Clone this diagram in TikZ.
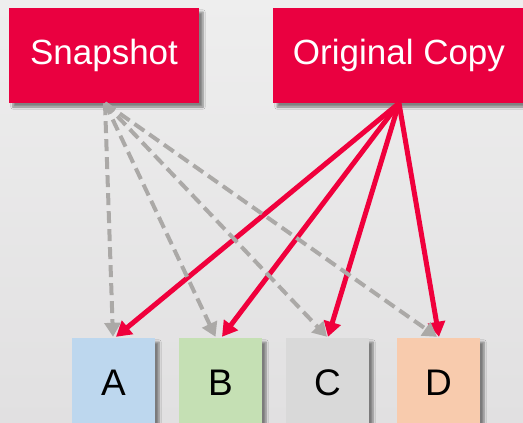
\documentclass[tikz,border=0pt]{standalone}
\usepackage{fontspec}
\setmainfont{Liberation Sans}
\usetikzlibrary{arrows.meta,calc,shadows.blur}
\definecolor{bgtop}{HTML}{EEEEEE}
\definecolor{bgbot}{HTML}{E1E0E1}
\definecolor{boxred}{HTML}{EA0040}
\definecolor{arrred}{HTML}{F0003C}
\definecolor{dashgray}{HTML}{ABA9A7}
\definecolor{cA}{HTML}{BDD7EE}
\definecolor{cB}{HTML}{C5E0B4}
\definecolor{cC}{HTML}{D9D9D9}
\definecolor{cD}{HTML}{F8CBAD}
\tikzset{
  shadowed/.style={blur shadow={shadow xshift=4pt, shadow yshift=-4pt, shadow blur steps=6, shadow opacity=45}},
  topbox/.style={fill=boxred, text=white, inner sep=0pt, shadowed,
    font=\fontsize{35}{40}\selectfont, minimum height=95pt},
  letterbox/.style={inner sep=0pt, minimum width=83pt, minimum height=89pt, shadowed,
    font=\fontsize{37}{42}\selectfont, text=black},
  redarrow/.style={draw=arrred, line width=5pt,
    -{Triangle[length=15pt,width=17pt]}},
  grayarrow/.style={draw=dashgray, line width=4pt, dash pattern=on 12pt off 6pt,
    -{Triangle[length=14pt,width=16pt]}},
}
\begin{document}
\begin{tikzpicture}[x=1pt,y=-1pt]
\useasboundingbox (0,0) rectangle (523,423);
\begin{scope}
\clip (0,0) rectangle (523,423);
\shade[top color=bgtop, bottom color=bgbot] (0,0) rectangle (523,423);
\node[topbox, minimum width=190pt] (snap) at (104,55.5) {Snapshot};
\node[topbox, minimum width=252pt] (orig) at (399,55.5) {Original Copy};
\node[letterbox, fill=cA] (A) at (113.5,382.5) {A};
\node[letterbox, fill=cB] (B) at (220.5,382.5) {B};
\node[letterbox, fill=cC] (C) at (327.5,382.5) {C};
\node[letterbox, fill=cD] (D) at (438.5,382.5) {D};
\draw[redarrow] (orig.south) -- ($(A.north)+(2.5,-1)$);
\draw[redarrow] (orig.south) -- ($(B.north)+(1.5,-1)$);
\draw[redarrow] (orig.south) -- ($(C.north)+(0.5,-1)$);
\draw[redarrow] (orig.south) -- ($(D.north)+(0.5,-1)$);
\draw[grayarrow] ($(snap.south)+(1,0)$) -- ($(A.north)+(-0.5,-1)$);
\draw[grayarrow] ($(snap.south)+(1,0)$) -- ($(B.north)+(-5,-1)$);
\draw[grayarrow] ($(snap.south)+(1,0)$) -- ($(C.north)+(-0.5,-1)$);
\draw[grayarrow] ($(snap.south)+(1,0)$) -- ($(D.north)+(-1.5,-1)$);
\end{scope}
\end{tikzpicture}
\end{document}
